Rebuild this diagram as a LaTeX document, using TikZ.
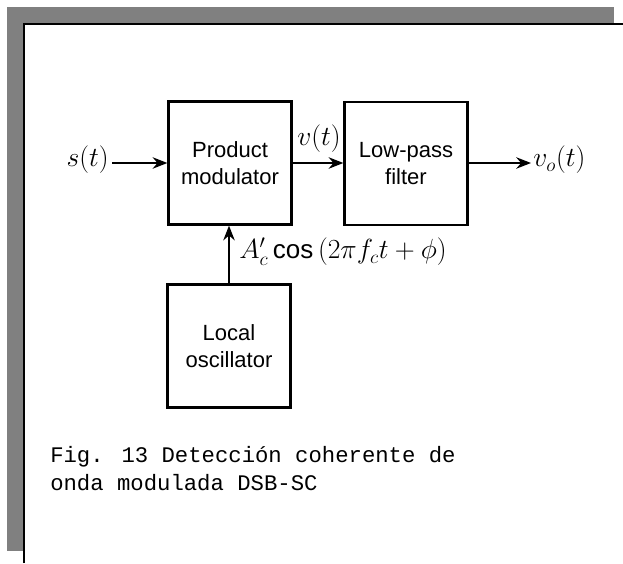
\documentclass[tikz,border=0pt]{standalone}
\usepackage{fontspec}
\setmainfont{Liberation Sans}
\newfontfamily\capfont{Liberation Mono}
\usetikzlibrary{arrows.meta}
\definecolor{framegray}{HTML}{808080}
\tikzset{
  blk/.style={draw=black, line width=1.9pt, minimum width=92pt, minimum height=92pt, align=center, inner sep=0pt, font=\fontsize{16.5}{20.5}\selectfont},
  sig/.style={line width=2pt, -{Stealth[length=11pt,width=8.5pt]}},
  lbl/.style={inner sep=0pt, font=\fontsize{19.5}{22}\selectfont}
}
\begin{document}
\begin{tikzpicture}[x=0.75pt,y=-0.75pt]
\useasboundingbox (0,0) rectangle (623,563);
% frame
\fill[framegray] (7,7) rectangle (614,551);
\fill[white] (23,23) rectangle (623,563);
\draw[line width=1.9pt] (24.2,563) -- (24.2,24.2) -- (623,24.2);
% blocks
\node[blk] (pm) at (230,163) {Product\\modulator};
\node[blk] (lpf) at (406,163.5) {Low-pass\\filter};
\node[blk] (lo) at (229,346) {Local\\oscillator};
% labels
\node[lbl, anchor=east] (s) at (109,160) {$s(t)$};
\node[lbl] (v) at (319,139) {$v(t)$};
\coordinate (out) at (531,163);
\node[lbl, anchor=west] (vo) at (533,160) {$v_o(t)$};
\node[lbl, anchor=west] (car) at (239,252) {$A'_c\cos\,(2\pi f_c t + \phi)$};
% connectors
\draw[sig] (s.east) ++(3,3) -- (pm.west |- 0,163);
\draw[sig] (pm.east |- 0,163) -- (lpf.west |- 0,163);
\draw[sig] (lpf.east |- 0,163) -- (out);
\draw[sig] (lo.north) -- (lo.north |- pm.south);
% caption
\node[anchor=base west, inner sep=0pt, align=left, font=\capfont\fontsize{16.7}{20.3}\selectfont] (cap) at (50,490) {Fig. 13 Detección coherente de\\onda modulada DSB-SC};
\end{tikzpicture}
\end{document}
